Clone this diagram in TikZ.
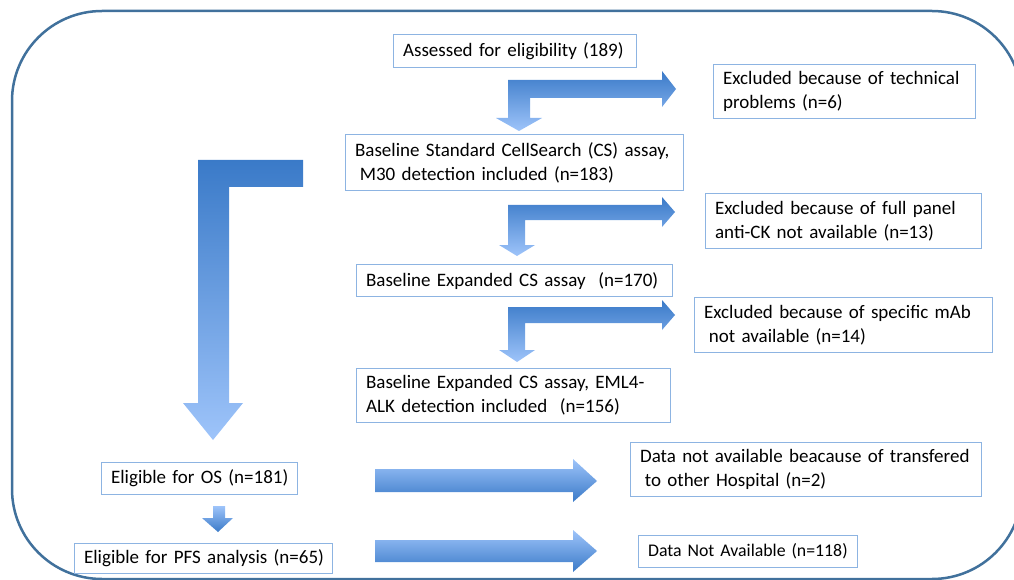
\documentclass[tikz,border=0pt]{standalone}
\usepackage{fontspec}
\setmainfont{Carlito}
\definecolor{frameblue}{RGB}{65,113,156}
\definecolor{boxline}{RGB}{141,180,226}
\definecolor{arrdark}{RGB}{58,122,200}
\definecolor{arrlight}{RGB}{158,196,250}
\tikzset{
    box/.style = {draw = boxline, line width = 1.2pt, anchor = north west, inner xsep = 9.5pt, inner ysep = 0pt, align = left, font = \fontsize{19}{24}\selectfont},
    darktop/.style = {top color = arrdark, bottom color = arrlight},
    lighttop/.style = {top color = arrlight, bottom color = arrdark}
}

\begin{document}
\begin{tikzpicture}[x = 1pt, y = -1pt]
    \useasboundingbox (0,0) rectangle (1014,580);
    \draw [color = frameblue, line width = 2.5pt, rounded corners = 90pt] (12,11) rectangle (1022,579);

    \node [box, text width = 224pt, minimum height = 33pt] (assess) at (393,34) {\mbox{Assessed for eligibility (189)}};
    \node [box, text width = 243pt, minimum height = 54pt] (techn) at (713,64) {\mbox{Excluded because of technical}\\\mbox{problems (n=6)}};
    \node [box, text width = 319pt, minimum height = 56pt] (stdcs) at (345,134) {\mbox{Baseline Standard CellSearch (CS) assay,}\\\mbox{\hspace{0.25em}M30 detection included (n=183)}};
    \node [box, text width = 257pt, minimum height = 55pt] (fullck) at (705,193) {\mbox{Excluded because of full panel}\\\mbox{anti-CK not available (n=13)}};
    \node [box, text width = 297pt, minimum height = 32pt] (expcs) at (356,264) {\mbox{Baseline Expanded CS assay\ \ (n=170)}};
    \node [box, text width = 279pt, minimum height = 55pt] (spmab) at (694,297) {\mbox{Excluded because of specific mAb}\\\mbox{\hspace{0.25em}not available (n=14)}};
    \node [box, text width = 295pt, minimum height = 54pt] (eml) at (356,368) {\mbox{Baseline Expanded CS assay, EML4-}\\\mbox{ALK detection included\ \ (n=156)}};
    \node [box, text width = 177pt, minimum height = 32pt] (os) at (101,462) {\mbox{Eligible for OS (n=181)}};
    \node [box, text width = 332pt, minimum height = 54pt] (transf) at (630,442) {\mbox{Data not available beacause of transfered}\\\mbox{\hspace{0.25em}to other Hospital (n=2)}};
    \node [box, text width = 239pt, minimum height = 30pt] (pfs) at (74,543) {\mbox{Eligible for PFS analysis (n=65)}};
    \node [box, text width = 200pt, minimum height = 32pt, font = \fontsize{17.8}{24}\selectfont] (notav) at (638,535) {\mbox{Data Not Available (n=118)}};

    \shade [darktop] (508,80) -- (662,80) -- (662,71) -- (676,89) -- (662,107) -- (662,98) -- (530,98) -- (530,118) -- (542,118) -- (519,131) -- (496,118) -- (508,118) -- cycle;
    \shade [darktop] (508,205) -- (662,205) -- (662,197) -- (675,212) -- (662,227) -- (662,220) -- (525,220) -- (525,245) -- (535,245) -- (517,256) -- (499,245) -- (508,245) -- cycle;
    \shade [darktop] (508,307) -- (662,307) -- (662,300) -- (675,315) -- (662,330) -- (662,323) -- (525,323) -- (525,350) -- (535,350) -- (517,362) -- (499,350) -- (508,350) -- cycle;
    \shade [darktop] (198,160) -- (303,160) -- (303,187) -- (229,187) -- (229,403) -- (243,403) -- (213,440) -- (183,403) -- (198,403) -- cycle;
    \shade [lighttop] (213,506) -- (225,506) -- (225,518) -- (233,518) -- (218,532) -- (202,518) -- (213,518) -- cycle;
    \shade [lighttop] (375,469) -- (573,469) -- (573,459) -- (597,481) -- (573,502) -- (573,492) -- (375,492) -- cycle;
    \shade [lighttop] (375,540) -- (573,540) -- (573,530) -- (597,551) -- (573,572) -- (573,562) -- (375,562) -- cycle;
\end{tikzpicture}
\end{document}
